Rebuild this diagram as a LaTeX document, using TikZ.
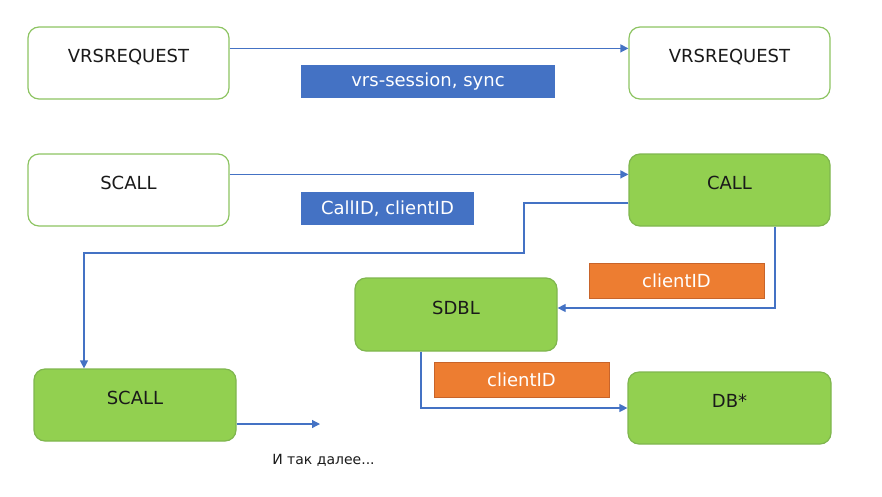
\documentclass[tikz,border=0pt]{standalone}
\usepackage{fontspec}
\setmainfont{DejaVu Sans}
\usetikzlibrary{arrows.meta}
\definecolor{lineblue}{HTML}{4472C4}
\definecolor{labblue}{HTML}{4472C4}
\definecolor{boxgreen}{HTML}{92D050}
\definecolor{greenedge}{HTML}{7FB64E}
\definecolor{lightedge}{HTML}{8DC462}
\definecolor{labor}{HTML}{ED7D31}
\definecolor{labored}{HTML}{C8642A}
\definecolor{txt}{HTML}{1A1A1A}
\tikzset{
  basebox/.style={rounded corners=11pt, line width=1.2pt, minimum width=201pt, minimum height=72pt,
    inner sep=0pt, text=txt, font=\fontsize{18}{21}\selectfont, text height=13pt, text depth=14pt},
  whitebox/.style={basebox, draw=lightedge, fill=white},
  greenbox/.style={basebox, draw=greenedge, fill=boxgreen},
  bluelab/.style={fill=labblue, text=white, inner sep=0pt, font=\fontsize{18}{21}\selectfont, minimum height=33pt},
  orlab/.style={fill=labor, draw=labored, line width=0.8pt, text=white, inner sep=0pt, font=\fontsize{18}{21}\selectfont, minimum height=35pt, minimum width=175pt},
  conn/.style={draw=lineblue, line width=1.2pt, -{Triangle[length=8pt,width=8pt]}}
}
\begin{document}
\begin{tikzpicture}[x=1pt,y=-1pt]
\useasboundingbox (0,0) rectangle (882,496);
% boxes
\node[whitebox] (vr1) at (128.5,63) {VRSREQUEST};
\node[whitebox] (vr2) at (729.5,63) {VRSREQUEST};
\node[whitebox] (sc1) at (128.5,190) {SCALL};
\node[greenbox] (call) at (729.5,190) {CALL};
\node[greenbox, minimum width=202pt] (sc2) at (135,405) {SCALL};
\node[greenbox, minimum width=202pt, minimum height=73pt] (sdbl) at (456,314.5) {SDBL};
\node[greenbox, minimum width=203pt] (db) at (729.5,408) {DB*};
% labels
\node[bluelab, minimum width=254pt] (l1) at (428,81.5) {vrs-session, sync};
\node[bluelab, minimum width=173pt] (l2) at (387.5,208.5) {CallID, clientID};
\node[orlab] (l3) at (676.5,280.5) {clientID};
\node[orlab] (l4) at (521.5,379.5) {clientID};
\node[text=txt, font=\fontsize{14}{16}\selectfont, inner sep=0pt] (etc) at (323.5,460) {И так далее...};
\coordinate (etcend) at (320,424);
% connectors
\draw[conn] ([yshift=-22pt]vr1.north east) -- ([yshift=-22pt]vr2.north west);
\draw[conn] ([yshift=-21pt]sc1.north east) -- ([yshift=-21pt]call.north west);
\draw[conn] ([yshift=-13pt]call.west) -| (524,253) -| ([xshift=-51pt]sc2.north);
\draw[conn] ([xshift=45.5pt]call.south) |- ([yshift=6.5pt]sdbl.east);
\draw[conn] ([xshift=-35pt]sdbl.south) |- (db.west);
\draw[conn] ([yshift=-19pt]sc2.east) -- (etcend);
\end{tikzpicture}
\end{document}
